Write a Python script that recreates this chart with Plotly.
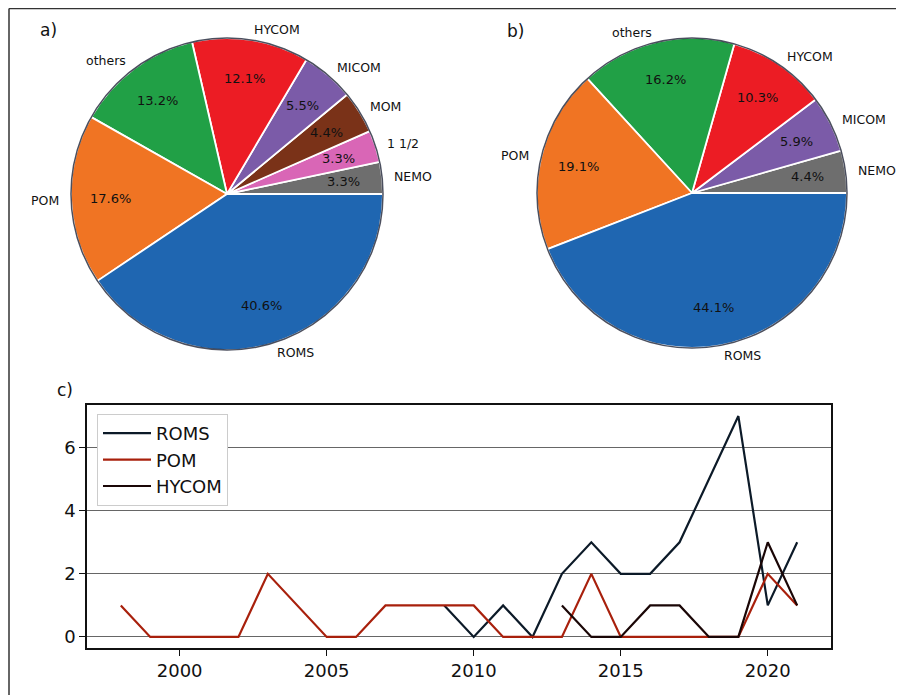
import math
import plotly.graph_objects as go

# Pie a) shares (%)
pie_a_labels = ["NEMO", "1 1/2", "MOM", "MICOM", "HYCOM", "others", "POM", "ROMS"]
pie_a_values = [3.3, 3.3, 4.4, 5.5, 12.1, 13.2, 17.6, 40.6]
pie_a_colors = ["#6e6e6e", "#d966b6", "#7a3218", "#7b5ba8", "#ec1c24", "#21a046", "#f07423", "#1f66b1"]

# Pie b) shares (%)
pie_b_labels = ["NEMO", "MICOM", "HYCOM", "others", "POM", "ROMS"]
pie_b_values = [4.4, 5.9, 10.3, 16.2, 19.1, 44.1]
pie_b_colors = ["#6e6e6e", "#7b5ba8", "#ec1c24", "#21a046", "#f07423", "#1f66b1"]

# Line chart c)
roms_years = [2009, 2010, 2011, 2012, 2013, 2014, 2015, 2016, 2017, 2018, 2019, 2020, 2021]
roms_counts = [1, 0, 1, 0, 2, 3, 2, 2, 3, 5, 7, 1, 3]
pom_years = list(range(1998, 2022))
pom_counts = [1, 0, 0, 0, 0, 2, 1, 0, 0, 1, 1, 1, 1, 0, 0, 0, 2, 0, 0, 0, 0, 0, 2, 1]
hycom_years = [2013, 2014, 2015, 2016, 2017, 2018, 2019, 2020, 2021]
hycom_counts = [1, 0, 0, 1, 1, 0, 0, 3, 1]
x_ticks = [2000, 2005, 2010, 2015, 2020]
y_ticks = [0, 2, 4, 6]

W, H = 904, 695
OFF = 8  # page body margin
FONT = "DejaVu Sans"
PCT_DIST = 0.75
LBL_DIST = 1.065


def px(x):
    return (x - OFF) / W


def py(y):
    return 1 - (y - OFF) / H


fig = go.Figure()
annotations = []
shapes = []


def add_pie(labels, values, colors, cx, cy, r):
    total = sum(values)
    # plotly (counterclockwise) ends the first slice at `rotation`; start it at 3 o'clock
    rot = 90 - 360.0 * values[0] / total
    fig.add_trace(go.Pie(
        labels=labels, values=values, sort=False, direction="counterclockwise",
        rotation=rot, domain=dict(x=[px(cx - r), px(cx + r)], y=[py(cy + r), py(cy - r)]),
        marker=dict(colors=colors, line=dict(color="white", width=1.8)),
        textinfo="none", showlegend=False, hoverinfo="label+value",
    ))
    start = 0.0
    for lab, v in zip(labels, values):
        span = 360.0 * v / total
        mid = math.radians(start + span / 2)
        start += span
        c, s = math.cos(mid), math.sin(mid)
        annotations.append(dict(
            text=f"{v:.1f}%", x=px(cx + PCT_DIST * r * c), y=py(cy - PCT_DIST * r * s),
            xref="paper", yref="paper", xanchor="center", yanchor="middle",
            showarrow=False, font=dict(size=13, family=FONT, color="#111")))
        annotations.append(dict(
            text=lab, x=px(cx + LBL_DIST * r * c), y=py(cy - LBL_DIST * r * s),
            xref="paper", yref="paper", xanchor="left" if c > 0 else "right",
            yanchor="middle", showarrow=False,
            font=dict(size=12.5, family=FONT, color="#111")))
    shapes.append(dict(type="circle", xref="paper", yref="paper",
                       x0=px(cx - r), x1=px(cx + r), y0=py(cy + r), y1=py(cy - r),
                       line=dict(color="rgba(15,20,40,0.75)", width=1.5)))


add_pie(pie_a_labels, pie_a_values, pie_a_colors, 227, 194, 156)
add_pie(pie_b_labels, pie_b_values, pie_b_colors, 692, 193, 155)

fig.add_trace(go.Scatter(x=roms_years, y=roms_counts, mode="lines", name="ROMS",
                         line=dict(color="#0c1a28", width=2.2)))
fig.add_trace(go.Scatter(x=pom_years, y=pom_counts, mode="lines", name="POM",
                         line=dict(color="#a8200c", width=2.2)))
fig.add_trace(go.Scatter(x=hycom_years, y=hycom_counts, mode="lines", name="HYCOM",
                         line=dict(color="#1a0606", width=2.2)))

# figure frame (left and top edges)
shapes.append(dict(type="line", xref="paper", yref="paper", x0=px(9), x1=px(9),
                   y0=0, y1=1 - 0.6 / H, line=dict(color="#333", width=1.5)))
shapes.append(dict(type="line", xref="paper", yref="paper", x0=px(9), x1=1,
                   y0=1 - 0.6 / H, y1=1 - 0.6 / H, line=dict(color="#333", width=1.5)))

for txt, x, y in [("a)", 38, 30), ("b)", 505, 31), ("c)", 55, 390)]:
    annotations.append(dict(text=txt, x=px(x), y=py(y), xref="paper", yref="paper",
                            xanchor="left", yanchor="middle", showarrow=False,
                            font=dict(size=17, family=FONT, color="#111")))

axis_font = dict(size=18, family=FONT, color="#111")
fig.update_layout(
    width=W, height=H,
    margin=dict(l=0, r=0, t=0, b=0),
    paper_bgcolor="white", plot_bgcolor="white",
    font=dict(family=FONT, color="#111"),
    xaxis=dict(domain=[px(87), px(831)], range=[1996.85, 2022.15],
               tickvals=x_ticks, ticks="outside", ticklen=6, tickwidth=1.3,
               tickcolor="#111", showgrid=False, zeroline=False,
               showline=True, linecolor="#111", linewidth=1.6, mirror=True,
               tickfont=axis_font),
    yaxis=dict(domain=[py(648), py(405)], range=[-0.35, 7.35],
               tickvals=y_ticks, ticks="outside", ticklen=6, tickwidth=1.3,
               tickcolor="#111", showgrid=True, gridcolor="#666666", gridwidth=1.4,
               zeroline=False,
               showline=True, linecolor="#111", linewidth=1.6, mirror=True,
               tickfont=axis_font),
    legend=dict(x=px(97), y=py(414), xanchor="left", yanchor="top",
                bgcolor="white", bordercolor="#cccccc", borderwidth=1,
                font=dict(size=18, family=FONT, color="#111"),
                itemwidth=48),
    shapes=shapes,
    annotations=annotations,
)

fig.write_html("out.html")
